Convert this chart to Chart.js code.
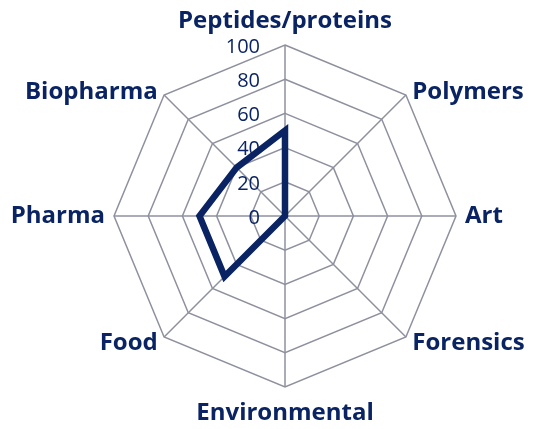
<!DOCTYPE html>
<html>
<head>
<meta charset="utf-8">
<script src="https://cdn.jsdelivr.net/npm/chart.js@4"></script>
<style>
  html, body { margin: 0; padding: 0; background: #fff; }
  .wrap { width: 538px; height: 429px; position: relative; }
</style>
</head>
<body>
<div class="wrap"><canvas class="myChart"></canvas></div>
<script>
const categories = ["Peptides/proteins", "Polymers", "Art", "Forensics", "Environmental", "Food", "Pharma", "Biopharma"];
const values = [50, 0, 0, 0, 0, 50, 50, 40];
const tickValues = [0, 20, 40, 60, 80, 100];

const navy = "#0a2463";
const gridGrey = "#8e909e";

// tick numbers sit left of the top spoke, category names outside the rim
const labelPlugin = {
  id: "labels",
  afterDraw(chart) {
    const scale = chart.scales.r;
    const ctx = chart.ctx;
    ctx.save();
    ctx.fillStyle = navy;

    ctx.font = "20px 'Open Sans'";
    ctx.textAlign = "right";
    ctx.textBaseline = "middle";
    tickValues.forEach((v) => {
      const d = scale.getDistanceFromCenterForValue(v);
      ctx.fillText(String(v), scale.xCenter - 25, scale.yCenter - d + 2);
    });

    ctx.font = "bold 24px 'Open Sans'";
    const r = scale.drawingArea;
    chart.data.labels.forEach((lab, i) => {
      const p = scale.getPointPosition(i, r + 9);
      const dx = p.x - scale.xCenter;
      const dy = p.y - scale.yCenter;
      let x = p.x;
      let y = p.y;
      if (Math.abs(dx) < 1) {
        ctx.textAlign = "center";
        y += dy < 0 ? -15 : 17;
      } else {
        ctx.textAlign = dx > 0 ? "left" : "right";
        if (dy < -1) y += 3;
      }
      ctx.textBaseline = "middle";
      ctx.fillText(lab, x, y);
    });
    ctx.restore();
  },
};

const ctx = document.querySelector(".myChart").getContext("2d");
const myChart = new Chart(ctx, {
  type: "radar",
  data: {
    labels: categories,
    datasets: [
      {
        data: values,
        borderColor: navy,
        borderWidth: 6.5,
        backgroundColor: "rgba(0,0,0,0)",
        fill: false,
        pointRadius: 0,
        tension: 0,
        borderJoinStyle: "miter",
      },
    ],
  },
  options: {
    responsive: true,
    maintainAspectRatio: false,
    animation: false,
    layout: {
      padding: { top: 45, bottom: 41, left: 114, right: 82 },
    },
    plugins: {
      legend: { display: false },
      tooltip: { enabled: false },
    },
    scales: {
      r: {
        min: 0,
        max: 100,
        ticks: { display: false, stepSize: 20 },
        pointLabels: { display: false },
        grid: { color: gridGrey, lineWidth: 1.5 },
        angleLines: { color: gridGrey, lineWidth: 1.5 },
      },
    },
  },
  plugins: [labelPlugin],
});
</script>
</body>
</html>
